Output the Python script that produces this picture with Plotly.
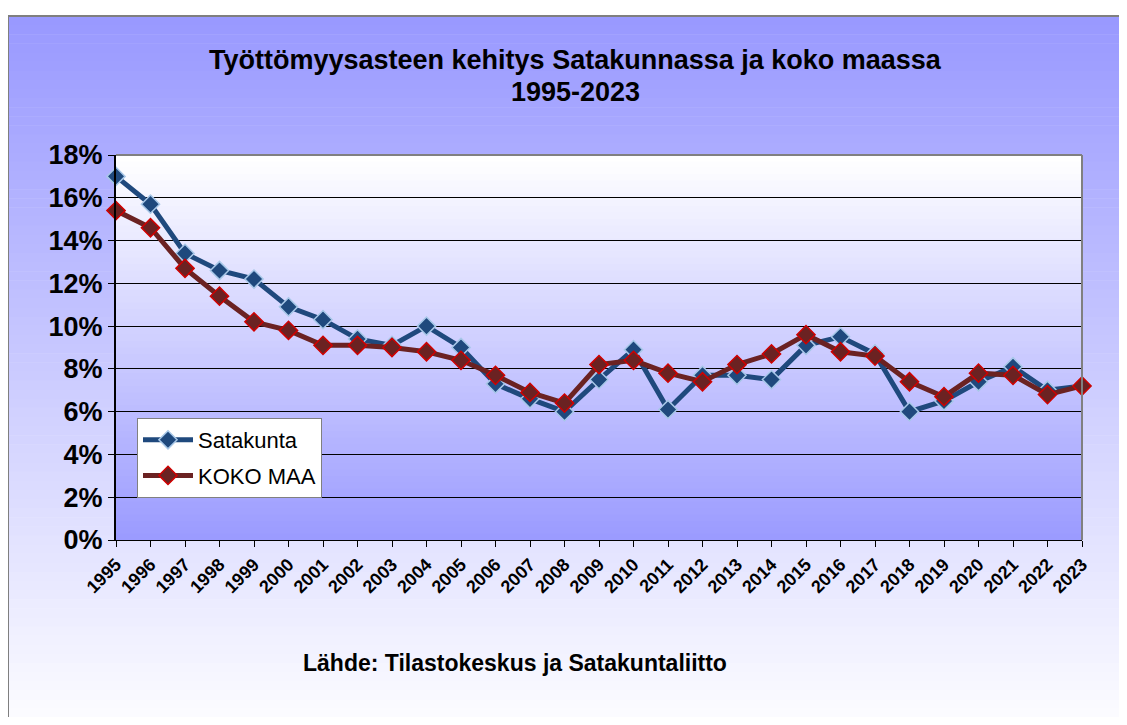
import plotly.graph_objects as go

# Data (unemployment rate, %)
years = list(range(1995, 2024))
satakunta = [17.0, 15.7, 13.4, 12.6, 12.2, 10.9, 10.3, 9.4, 9.1, 10.0,
             9.0, 7.3, 6.6, 6.0, 7.5, 8.9, 6.1, 7.7, 7.7, 7.5,
             9.1, 9.5, 8.7, 6.0, 6.5, 7.4, 8.1, 7.0, 7.2]
koko_maa = [15.4, 14.6, 12.7, 11.4, 10.2, 9.8, 9.1, 9.1, 9.0, 8.8,
            8.4, 7.7, 6.9, 6.4, 8.2, 8.4, 7.8, 7.4, 8.2, 8.7,
            9.6, 8.8, 8.6, 7.4, 6.7, 7.8, 7.7, 6.8, 7.2]
y_ticks = [0, 2, 4, 6, 8, 10, 12, 14, 16, 18]

OFF = 8  # page body margin shifts the figure
W, H = 1127 - 2 * OFF, 725 - 2 * OFF  # keep page free of scrollbars
L, R, T, B = 116 - OFF, 1082 - OFF, 155 - OFF, 540 - OFF  # plot area in figure pixels


def px_x(x):
    return (x - OFF - L) / (R - L)


def px_y(y):
    return (B - (y - OFF)) / (B - T)


def mix(c1, c2, f):
    return "rgb(%d,%d,%d)" % tuple(round(a + (b - a) * f) for a, b in zip(c1, c2))


shapes = []
# outer chart background: blue at top fading to white
n = 80
top, bot = 16, 745
for i in range(n):
    y0 = top + (bot - top) * i / n
    y1 = top + (bot - top) * (i + 1) / n + 0.5
    shapes.append(dict(type="rect", xref="paper", yref="paper", layer="below",
                       x0=px_x(8), x1=px_x(1150), y0=px_y(y0), y1=px_y(y1),
                       line_width=0, fillcolor=mix((153, 153, 255), (255, 255, 255), i / (n - 1))))
# outer frame (left and top edges visible)
shapes.append(dict(type="line", xref="paper", yref="paper", layer="below",
                   x0=px_x(8), x1=px_x(1150), y0=px_y(16), y1=px_y(16),
                   line=dict(color="#7f7f7f", width=2)))
shapes.append(dict(type="line", xref="paper", yref="paper", layer="below",
                   x0=px_x(8), x1=px_x(8), y0=px_y(16), y1=px_y(745),
                   line=dict(color="#7f7f7f", width=2)))
# plot area: white at top fading to blue
n = 60
for i in range(n):
    f0 = i / n
    f1 = min((i + 1) / n + 0.002, 1)
    shapes.append(dict(type="rect", xref="paper", yref="paper", layer="below",
                       x0=0, x1=1, y0=1 - f0, y1=1 - f1,
                       line_width=0, fillcolor=mix((255, 255, 255), (155, 155, 255), i / (n - 1))))
# plot area top and right border
shapes.append(dict(type="line", xref="paper", yref="paper", x0=0, x1=1, y0=1, y1=1,
                   line=dict(color="#808080", width=2)))
shapes.append(dict(type="line", xref="paper", yref="paper", x0=1, x1=1, y0=0, y1=1,
                   line=dict(color="#808080", width=2)))

fig = go.Figure()
fig.add_trace(go.Scatter(
    x=years, y=satakunta, name="Satakunta", mode="lines+markers",
    line=dict(color="#1f497d", width=5),
    marker=dict(symbol="diamond", size=14, color="#1f497d",
                line=dict(color="#a8c8e8", width=1.5)),
    cliponaxis=False, legendgroup="a",
))
fig.add_trace(go.Scatter(
    x=years, y=koko_maa, name="KOKO MAA", mode="lines+markers",
    line=dict(color="#6b2222", width=5),
    marker=dict(symbol="diamond", size=14, color="#6b2222",
                line=dict(color="#d00000", width=1.5)),
    cliponaxis=False, legendgroup="b",
))

fig.update_layout(
    width=W, height=H,
    margin=dict(l=L, r=W - R, t=T, b=H - B),
    paper_bgcolor="white", plot_bgcolor="rgba(0,0,0,0)",
    font=dict(family="Arial, Liberation Sans, sans-serif", color="black"),
    shapes=shapes,
    legend=dict(x=px_x(137), y=px_y(418), xanchor="left", yanchor="top",
                bgcolor="white", bordercolor="#808080", borderwidth=1,
                font=dict(size=22), tracegroupgap=4, traceorder="grouped",
                itemwidth=50),
    annotations=[
        dict(text="<b>Työttömyysasteen kehitys Satakunnassa ja koko maassa</b>",
             xref="paper", yref="paper", x=px_x(575), y=px_y(60),
             xanchor="center", yanchor="middle", showarrow=False, font=dict(size=27)),
        dict(text="<b>1995-2023</b>",
             xref="paper", yref="paper", x=px_x(575), y=px_y(92),
             xanchor="center", yanchor="middle", showarrow=False, font=dict(size=27)),
        dict(text="<b>Lähde: Tilastokeskus ja Satakuntaliitto</b>",
             xref="paper", yref="paper", x=px_x(515), y=px_y(663),
             xanchor="center", yanchor="middle", showarrow=False, font=dict(size=23)),
    ],
)
fig.update_xaxes(
    range=[1995, 2023], tickmode="array", tickvals=years,
    ticktext=["<b>%d</b>" % y for y in years],
    tickangle=-45, tickfont=dict(size=18),
    ticks="outside", ticklen=6, tickcolor="black",
    showgrid=False, zeroline=False, showline=True, linecolor="black", linewidth=1,
)
fig.update_yaxes(
    range=[0, 18], tickvals=y_ticks, ticktext=["<b>%d%%</b>" % v for v in y_ticks],
    tickfont=dict(size=27), ticks="outside", ticklen=6, tickcolor="black",
    showgrid=True, gridcolor="black", gridwidth=1, zeroline=False,
    showline=True, linecolor="black", linewidth=2,
)

fig.write_html("out.html")
